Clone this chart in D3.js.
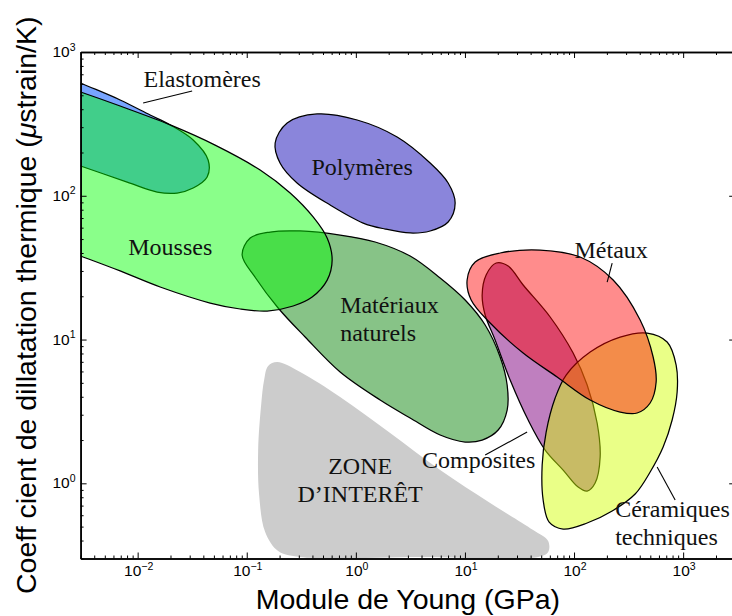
<!DOCTYPE html>
<html>
<head>
<meta charset="utf-8">
<script src="https://cdn.jsdelivr.net/npm/d3@7"></script>
<style>
  body { margin: 0; background: #fff; }
  svg { display: block; }
</style>
</head>
<body>
<script>
// Ashby-type map: Young's modulus (GPa) vs thermal expansion coefficient (µstrain/K).
// Each material family is an outline given as [E (GPa), alpha (µstrain/K)] points.

const xTickValues = [1e-2, 1e-1, 1e0, 1e1, 1e2, 1e3];
const xTickExponents = ["\u22122", "\u22121", "0", "1", "2", "3"];
const yTickValues = [1e0, 1e1, 1e2, 1e3];
const yTickExponents = ["0", "1", "2", "3"];

const zoneInteret = [
  [0.1571, 6.545], [0.1900, 6.98], [0.3087, 5.946], [0.7177, 3.983], [2.063, 2.238],
  [5.925, 1.237], [17.02, 0.7294], [42.19, 0.4734], [57.88, 0.397], [57.88, 0.3329],
  [46.88, 0.3072], [3.886, 0.3072], [0.3087, 0.3072], [0.1940, 0.3381], [0.1475, 0.4585],
  [0.1299, 0.8292], [0.1272, 1.704], [0.1355, 3.504], [0.1443, 5.23]
];

const elastomeres = [
  [0.0015, 769], [0.003, 609], [0.00691, 464], [0.01302, 364.6], [0.0199, 311],
  [0.03227, 244.2], [0.04427, 177.3], [0.04335, 135.1], [0.03227, 113.2], [0.02301, 104.5],
  [0.01509, 106.2], [0.00801, 124.6], [0.003, 161.1], [0.0015, 193.3]
];

const mousses = [
  [0.0015, 628], [0.003, 527], [0.00691, 421], [0.0199, 311], [0.0513, 225],
  [0.1327, 151], [0.250, 104.5], [0.406, 71.2], [0.5456, 50.8], [0.6064, 35.7],
  [0.546, 25.9], [0.3976, 19.76], [0.2663, 17.11], [0.1538, 15.79], [0.0870, 16.31],
  [0.0462, 17.95], [0.01608, 23.2], [0.00691, 30.0], [0.003, 38.1], [0.0015, 46.3]
];

const naturels = [
  [0.0907, 38.7], [0.1075, 50.8], [0.1639, 55.97], [0.3087, 56.9], [0.7177, 53.3],
  [1.503, 47.7], [3.146, 38.1], [5.925, 26.8], [10.04, 18.84], [15.32, 12.62],
  [21.02, 7.56], [24.37, 4.83], [24.37, 3.235], [20.16, 2.349], [14.38, 2.0],
  [10.04, 1.938], [5.925, 2.168], [3.146, 2.846], [1.670, 3.797], [0.7177, 5.946],
  [0.3430, 10.41], [0.1940, 16.57], [0.1206, 26.8]
];

const polymeres = [
  [0.1821, 232.8], [0.2346, 320.7], [0.4418, 370.5], [1.028, 336.5], [2.391, 256.3],
  [4.797, 169.0], [7.015, 122.7], [8.131, 89.0], [7.015, 65.7], [4.797, 56.9],
  [3.146, 55.1], [1.856, 58.7], [1.167, 64.6], [0.5815, 86.2], [0.2891, 122.7],
  [0.2019, 169.0]
];

const composites = [
  [14.38, 20.4], [15.64, 28.1], [19.32, 34.06], [24.89, 32.46], [34.16, 23.95],
  [60.4, 14.35], [98.1, 8.058], [131.9, 4.83], [162.8, 2.627], [173.5, 1.524],
  [156.1, 1.005], [131.9, 0.884], [109.0, 0.9425], [79.45, 1.237], [54.34, 1.704],
  [37.96, 2.756], [25.96, 5.23], [18.91, 9.925], [15.32, 14.82]
];

const ceramiques = [
  [67.1, 3.92], [84.6, 5.666], [140.5, 8.19], [264.6, 10.41], [467.7, 11.10],
  [713.3, 9.612], [862.7, 6.65], [881.1, 4.315], [792.9, 2.756], [655.6, 1.788],
  [498.3, 1.198], [363.1, 0.8424], [223.5, 0.6418], [131.9, 0.5294], [79.45, 0.4811],
  [59.13, 0.538], [52.11, 0.7652], [51.02, 1.341], [55.5, 2.274]
];

const metaux = [
  [10.47, 25.95], [12.41, 34.6], [21.02, 40.0], [48.91, 41.95], [113.7, 37.5],
  [228.3, 25.95], [403.6, 13.67], [530.9, 7.56], [565.6, 5.065], [498.3, 3.619],
  [378.7, 3.083], [264.6, 3.133], [140.5, 3.797], [70.0, 5.488], [34.16, 8.058],
  [17.02, 13.03], [11.40, 18.84]
];

// Label anchors [E, alpha] and leader lines [[E1, a1], [E2, a2]]
const labelElastomeres = [0.0390, 575];
const labelPolymeres = [1.142, 139.5];
const labelMousses = [0.0199, 38.7];
const labelNaturels = [0.7177, 15.3];
const labelMetaux = [218.8, 36.9];
const labelComposites = [13.35, 1.278];
const labelZone = [1.095, 1.161];
const labelCeramiques = [238.1, 0.583];

const leaderElastomeres = [[0.01123, 441.8], [0.0316, 535.5]];
const leaderMetaux = [[223.5, 34.06], [201.2, 25.1]];
const leaderComposites = [[15.32, 1.573], [37.16, 2.274]];
const leaderCeramiques = [[577.8, 1.298], [844.8, 0.765]];

const W = 732, H = 616;
const svg = d3.select("body").append("svg").attr("width", W).attr("height", H);

const x = d3.scaleLog().domain([0.003, 3000]).range([80.6, 735.2]);
const y = d3.scaleLog().domain([0.3, 1000]).range([558.5, 52]);

svg.append("defs").append("clipPath").attr("id", "plotClip")
  .append("rect")
  .attr("x", x.range()[0]).attr("y", y.range()[1])
  .attr("width", x.range()[1] - x.range()[0])
  .attr("height", y.range()[0] - y.range()[1]);

const plot = svg.append("g").attr("clip-path", "url(#plotClip)");

const outline = d3.line()
  .x(d => x(d[0])).y(d => y(d[1]))
  .curve(d3.curveCatmullRomClosed.alpha(0.5));

// Drawing order: lower families first so overlaps blend
const families = [
  { pts: zoneInteret, fill: "#cccccc", op: 1, stroke: "none" },
  { pts: elastomeres, fill: "rgb(0,85,255)", op: 0.53, stroke: "#000" },
  { pts: naturels, fill: "rgb(0,128,0)", op: 0.47, stroke: "#000" },
  { pts: mousses, fill: "rgb(0,255,0)", op: 0.46, stroke: "#000" },
  { pts: polymeres, fill: "rgb(10,0,180)", op: 0.48, stroke: "#000" },
  { pts: composites, fill: "rgb(128,0,128)", op: 0.5, stroke: "#000" },
  { pts: ceramiques, fill: "rgb(210,255,0)", op: 0.47, stroke: "#000" },
  { pts: metaux, fill: "rgb(255,0,0)", op: 0.45, stroke: "#000" }
];

families.forEach(f => {
  plot.append("path")
    .attr("d", outline(f.pts))
    .attr("fill", f.fill)
    .attr("fill-opacity", f.op)
    .attr("stroke", f.stroke)
    .attr("stroke-width", 1.25)
    .attr("stroke-linejoin", "round");
});

// Leader lines
[leaderElastomeres, leaderMetaux, leaderComposites, leaderCeramiques].forEach(l => {
  plot.append("line")
    .attr("x1", x(l[0][0])).attr("y1", y(l[0][1]))
    .attr("x2", x(l[1][0])).attr("y2", y(l[1][1]))
    .attr("stroke", "#000").attr("stroke-width", 1.1);
});

// Region labels
const serif = "'Liberation Serif', 'DejaVu Serif', serif";
function label(pos, lines, anchor) {
  const t = svg.append("text")
    .attr("x", x(pos[0])).attr("y", y(pos[1]))
    .attr("font-family", serif).attr("font-size", 24)
    .attr("text-anchor", anchor).attr("fill", "#111");
  lines.forEach((s, i) => {
    t.append("tspan").attr("x", x(pos[0])).attr("dy", i === 0 ? 0 : 28).text(s);
  });
}
label(labelElastomeres, ["Elastomères"], "middle");
label(labelPolymeres, ["Polymères"], "middle");
label(labelMousses, ["Mousses"], "middle");
label(labelNaturels, ["Matériaux", "naturels"], "start");
label(labelMetaux, ["Métaux"], "middle");
label(labelComposites, ["Composites"], "middle");
label(labelZone, ["ZONE", "D\u2019INTERÊT"], "middle");
label(labelCeramiques, ["Céramiques", "techniques"], "start");

// Axes: ticks pointing inward on all four sides
const minorX = [];
for (let e = -3; e <= 3; e++) for (let m = 2; m <= 9; m++) {
  const v = m * Math.pow(10, e);
  if (v >= 0.003 && v <= 3000) minorX.push(v);
}
const minorY = [];
for (let e = -1; e <= 2; e++) for (let m = 2; m <= 9; m++) {
  const v = m * Math.pow(10, e);
  if (v >= 0.3 && v <= 1000) minorY.push(v);
}

function styleAxis(g) {
  g.select(".domain").attr("stroke", "#000").attr("stroke-width", 1.5);
  g.selectAll(".tick line").attr("stroke", "#000").attr("stroke-width", 1);
  g.selectAll(".tick text").remove();
}

const x0 = x.range()[0], x1 = x.range()[1], y0 = y.range()[0], y1 = y.range()[1];

[[d3.axisBottom, `translate(0,${y0})`, x, xTickValues, minorX],
 [d3.axisTop, `translate(0,${y1})`, x, xTickValues, minorX],
 [d3.axisLeft, `translate(${x0},0)`, y, yTickValues, minorY],
 [d3.axisRight, `translate(${x1},0)`, y, yTickValues, minorY]].forEach(([ax, tr, sc, major, minor]) => {
  svg.append("g").attr("transform", tr)
    .call(ax(sc).tickValues(minor).tickSize(-3).tickSizeOuter(0).tickFormat(() => ""))
    .call(styleAxis);
  svg.append("g").attr("transform", tr)
    .call(ax(sc).tickValues(major).tickSize(-6).tickSizeOuter(0).tickFormat(() => ""))
    .call(styleAxis);
});

// Tick labels as 10^n
const sans = "'Liberation Sans', Arial, sans-serif";
function powerLabel(px, py, exp, anchor) {
  const t = svg.append("text")
    .attr("x", px).attr("y", py)
    .attr("font-family", sans).attr("font-size", 15.5)
    .attr("text-anchor", anchor).attr("fill", "#000");
  t.append("tspan").text("10");
  t.append("tspan").attr("font-size", 10.5).attr("dy", -6.5).text(exp);
}
xTickValues.forEach((v, i) => powerLabel(x(v) + 1, y0 + 17.5, xTickExponents[i], "middle"));
yTickValues.forEach((v, i) => powerLabel(x0 - 5, y(v) + 5, yTickExponents[i], "end"));

// Axis titles
svg.append("text")
  .attr("x", (x0 + x1) / 2).attr("y", 609)
  .attr("font-family", sans).attr("font-size", 28.5)
  .attr("text-anchor", "middle").attr("fill", "#000")
  .text("Module de Young (GPa)");

const yt = svg.append("text")
  .attr("transform", `translate(36,${(y0 + y1) / 2}) rotate(-90)`)
  .attr("font-family", sans).attr("font-size", 28.5)
  .attr("text-anchor", "middle").attr("fill", "#000");
yt.append("tspan").text("Coeff cient de dillatation thermique (");
yt.append("tspan").attr("font-style", "italic").text("μ");
yt.append("tspan").text("strain/K)");
</script>
</body>
</html>
